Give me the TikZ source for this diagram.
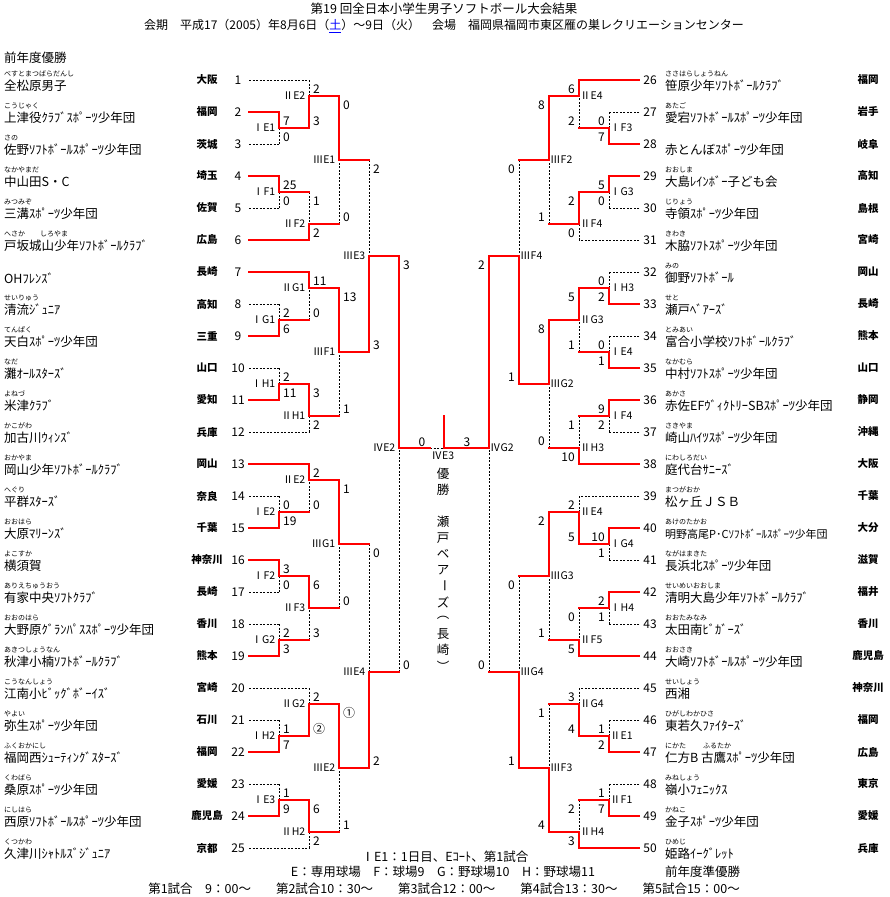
\documentclass[tikz,border=0pt]{standalone}
\usepackage{fontspec}
\usepackage{graphicx}
\usepackage{tikz}
\setmainfont{Noto Sans CJK JP}
\definecolor{linkblue}{RGB}{0,0,255}

\begin{document}
\begin{tikzpicture}[x=1pt,y=-1pt,
	won/.style={red,line width=2.5pt,line cap=rect},
	lost/.style={black,line width=0.8pt,dash pattern=on 2pt off 1.5pt},
	txt/.style={inner sep=0pt,font=\fontsize{12.5}{15}\selectfont},
	kana/.style={inner sep=0pt,anchor=west,font=\fontsize{7}{8}\selectfont},
	tname/.style={inner sep=0pt,anchor=west,font=\fontsize{12.5}{15}\selectfont},
	teamno/.style={inner sep=0pt,font=\fontsize{12}{14}\selectfont},
	pref/.style={inner sep=0pt,font=\fontsize{10.5}{12}\selectfont\bfseries},
	mlabel/.style={inner sep=0pt,font=\fontsize{10.5}{12}\selectfont},
	pts/.style={inner sep=0pt,font=\fontsize{12}{14}\selectfont}]
	\useasboundingbox (0,0) rectangle (889,897);
	\node[txt] (title) at (444,9) {第19 回全日本小学生男子ソフトボール大会結果};
	\node[txt,font=\fontsize{12}{14}\selectfont] (period) at (444,26) {会期　平成17（2005）年8月6日（\textcolor{linkblue}{\underline{土}}）～9日（火）　会場　福岡県福岡市東区雁の巣レクリエーションセンター};
	\node[txt,anchor=west] (prevwin) at (4,58) {前年度優勝};
	\node[txt,anchor=west] (prevrun) at (665,872) {前年度準優勝};
	\node[txt] (note1) at (445,857) {ⅠE1：1日目、Eｺｰﾄ、第1試合};
	\node[txt] (note2) at (443,872) {E：専用球場　F：球場9　G：野球場10　H：野球場11};
	\node[txt] (note3) at (444,889) {第1試合　9：00～　　第2試合10：30～　　第3試合12：00～　　第4試合13：30～　　第5試合15：00～};
	\foreach \n/\f/\t/\p [evaluate=\n as \y using 48+32*\n] in {1/べすとまつばらだんし/全松原男子/大阪, 2/こうじゃく/上津役ｸﾗﾌﾞｽﾎﾟｰﾂ少年団/福岡, 3/さの/佐野ｿﾌﾄﾎﾞｰﾙｽﾎﾟｰﾂ少年団/茨城, 4/なかやまだ/中山田S・C/埼玉, 5/みつみぞ/三溝ｽﾎﾟｰﾂ少年団/佐賀, 6/{へさか\hspace{15pt}しろやま}/戸坂城山少年ｿﾌﾄﾎﾞｰﾙｸﾗﾌﾞ/広島, 7//OHﾌﾚﾝｽﾞ/長崎, 8/せいりゅう/清流ｼﾞｭﾆｱ/高知, 9/てんぱく/天白ｽﾎﾟｰﾂ少年団/三重, 10/なだ/灘ｵｰﾙｽﾀｰｽﾞ/山口, 11/よねづ/米津ｸﾗﾌﾞ/愛知, 12/かこがわ/加古川ｳｨﾝｽﾞ/兵庫, 13/おかやま/岡山少年ｿﾌﾄﾎﾞｰﾙｸﾗﾌﾞ/岡山, 14/へぐり/平群ｽﾀｰｽﾞ/奈良, 15/おおはら/大原ﾏﾘｰﾝｽﾞ/千葉, 16/よこすか/横須賀/神奈川, 17/ありえちゅうおう/有家中央ｿﾌﾄｸﾗﾌﾞ/長崎, 18/おおのはら/大野原ｸﾞﾗﾝﾊﾟｽｽﾎﾟｰﾂ少年団/香川, 19/あきつしょうなん/秋津小楠ｿﾌﾄﾎﾞｰﾙｸﾗﾌﾞ/熊本, 20/こうなんしょう/江南小ﾋﾞｯｸﾞﾎﾞｰｲｽﾞ/宮崎, 21/やよい/弥生ｽﾎﾟｰﾂ少年団/石川, 22/ふくおかにし/福岡西ｼｭｰﾃｨﾝｸﾞｽﾀｰｽﾞ/福岡, 23/くわばら/桑原ｽﾎﾟｰﾂ少年団/愛媛, 24/にしはら/西原ｿﾌﾄﾎﾞｰﾙｽﾎﾟｰﾂ少年団/鹿児島, 25/くつかわ/久津川ｼｬﾄﾙｽﾞｼﾞｭﾆｱ/京都}{
		\coordinate (t\n) at (249,\y);
		\node[teamno] (n\n) at (238,\y) {\n};
		\node[pref] (p\n) at (207,\y) {\p};
		\node[tname] (tn\n) at (4,\y+6) {\t};
		\node[kana] (k\n) at (4,\y-6) {\f};
	}
	\foreach \n/\f/\t/\p [evaluate=\n as \y using 32*\n-752] in {26/ささはらしょうねん/笹原少年ｿﾌﾄﾎﾞｰﾙｸﾗﾌﾞ/福岡, 27/あたご/愛宕ｿﾌﾄﾎﾞｰﾙｽﾎﾟｰﾂ少年団/岩手, 28//赤とんぼｽﾎﾟｰﾂ少年団/岐阜, 29/おおしま/大島ﾚｲﾝﾎﾞｰ子ども会/高知, 30/じりょう/寺領ｽﾎﾟｰﾂ少年団/島根, 31/きわき/木脇ｿﾌﾄｽﾎﾟｰﾂ少年団/宮崎, 32/みの/御野ｿﾌﾄﾎﾞｰﾙ/岡山, 33/せと/瀬戸ﾍﾞｱｰｽﾞ/長崎, 34/とみあい/富合小学校ｿﾌﾄﾎﾞｰﾙｸﾗﾌﾞ/熊本, 35/なかむら/中村ｿﾌﾄｽﾎﾟｰﾂ少年団/山口, 36/あかさ/赤佐EFｳﾞｨｸﾄﾘｰSBｽﾎﾟｰﾂ少年団/静岡, 37/さきやま/崎山ﾊｲﾂｽﾎﾟｰﾂ少年団/沖縄, 38/にわしろだい/庭代台ｻﾆｰｽﾞ/大阪, 39/まつがおか/松ヶ丘ＪＳＢ/千葉, 40/あけのたかお/{\fontsize{11}{13}\selectfont 明野高尾P･Cｿﾌﾄﾎﾞｰﾙｽﾎﾟｰﾂ少年団}/大分, 41/ながはまきた/長浜北ｽﾎﾟｰﾂ少年団/滋賀, 42/せいめいおおしま/清明大島少年ｿﾌﾄﾎﾞｰﾙｸﾗﾌﾞ/福井, 43/おおたみなみ/太田南ﾋﾞｶﾞｰｽﾞ/香川, 44/おおさき/大崎ｿﾌﾄﾎﾞｰﾙｽﾎﾟｰﾂ少年団/鹿児島, 45/せいしょう/西湘/神奈川, 46/ひがしわかひさ/東若久ﾌｧｲﾀｰｽﾞ/福岡, 47/{にかた\hspace{17pt}ふるたか}/仁方B 古鷹ｽﾎﾟｰﾂ少年団/広島, 48/みねしょう/嶺小ﾌｪﾆｯｸｽ/東京, 49/かねこ/金子ｽﾎﾟｰﾂ少年団/愛媛, 50/ひめじ/姫路ｲｰｸﾞﾚｯﾄ/兵庫}{
		\coordinate (t\n) at (639,\y);
		\node[teamno] (n\n) at (650,\y) {\n};
		\node[pref] (p\n) at (868,\y) {\p};
		\node[tname] (tn\n) at (665,\y+6) {\t};
		\node[kana] (k\n) at (665,\y-6) {\f};
	}
	\foreach \m/\x/\y/\l in {IE1/279/128/ⅠE1, IF1/279/192/ⅠF1, IG1/279/320/ⅠG1, IH1/279/384/ⅠH1, IE2/279/512/ⅠE2, IF2/279/576/ⅠF2, IG2/279/640/ⅠG2, IH2/279/736/ⅠH2, IE3/279/800/ⅠE3, IIEa/309/96/ⅡE2, IIF2/309/224/ⅡF2, IIG1/309/288/ⅡG1, IIH1/309/416/ⅡH1, IIEb/309/480/ⅡE2, IIF3/309/608/ⅡF3, IIG2/309/704/ⅡG2, IIH2/309/832/ⅡH2, IIIE1/339/160/ⅢE1, IIIF1/339/352/ⅢF1, IIIG1/339/544/ⅢG1, IIIE2/339/768/ⅢE2, IIIE3/369/256/ⅢE3, IIIE4/369/672/ⅢE4, IVE2/399/448/ⅣE2}{
		\coordinate (\m) at (\x,\y);
		\node[mlabel,anchor=east,shift={(-3.5,0)}] (\m-l) at (\m) {\l};
	}
	\foreach \m/\x/\y/\l in {IF3/609/128/ⅠF3, IG3/609/192/ⅠG3, IH3/609/288/ⅠH3, IE4/609/352/ⅠE4, IF4/609/416/ⅠF4, IG4/609/544/ⅠG4, IH4/609/608/ⅠH4, IIE1/609/736/ⅡE1, IIF1/609/800/ⅡF1, IIEc/579/96/ⅡE4, IIF4/579/224/ⅡF4, IIG3/579/320/ⅡG3, IIH3/579/448/ⅡH3, IIEd/579/512/ⅡE4, IIF5/579/640/ⅡF5, IIG4/579/704/ⅡG4, IIH4/579/832/ⅡH4, IIIF2/549/160/ⅢF2, IIIG2/549/384/ⅢG2, IIIG3/549/576/ⅢG3, IIIF3/549/768/ⅢF3, IIIF4/519/256/ⅢF4, IIIG4/519/672/ⅢG4, IVG2/489/448/ⅣG2}{
		\coordinate (\m) at (\x,\y);
		\node[mlabel,anchor=west,shift={(1,0)}] (\m-l) at (\m) {\l};
	}
	\foreach \a/\m/\h/\v/\s/\d in {t3/IE1/lost/lost/0/-7, t2/IE1/won/won/7/9, t5/IF1/lost/lost/0/-7, t4/IF1/won/won/25/9, t8/IG1/lost/lost/2/9, t9/IG1/won/won/6/-7, t10/IH1/lost/lost/2/9, t11/IH1/won/won/11/-7, t14/IE2/lost/lost/0/9, t15/IE2/won/won/19/-7, t17/IF2/lost/lost/0/-7, t16/IF2/won/won/3/9, t18/IG2/lost/lost/2/9, t19/IG2/won/won/3/-7, t21/IH2/lost/lost/1/9, t22/IH2/won/won/7/-7, t23/IE3/lost/lost/1/9, t24/IE3/won/won/9/-7,
		t1/IIEa/lost/lost/2/9, IE1/IIEa/won/won/3/-7, IF1/IIF2/won/lost/1/9, t6/IIF2/won/won/2/-7, IG1/IIG1/won/lost/0/-7, t7/IIG1/won/won/11/9, t12/IIH1/lost/lost/2/-7, IH1/IIH1/won/won/3/9, IE2/IIEb/won/lost/0/-7, t13/IIEb/won/won/2/9, IG2/IIF3/won/lost/3/-7, IF2/IIF3/won/won/6/9, t20/IIG2/lost/lost/2/9, IH2/IIG2/won/won/②/-7, t25/IIH2/lost/lost/2/-7, IE3/IIH2/won/won/6/9,
		IIF2/IIIE1/won/lost/0/-7, IIEa/IIIE1/won/won/0/9, IIH1/IIIF1/won/lost/1/-7, IIG1/IIIF1/won/won/13/9, IIF3/IIIG1/won/lost/0/-7, IIEb/IIIG1/won/won/1/9, IIH2/IIIE2/won/lost/1/-7, IIG2/IIIE2/won/won/①/9,
		IIIE1/IIIE3/won/lost/2/9, IIIF1/IIIE3/won/won/3/-7, IIIG1/IIIE4/won/lost/0/9, IIIE2/IIIE4/won/won/2/-7, IIIE4/IVE2/won/lost/0/-7, IIIE3/IVE2/won/won/3/9}{
		\draw[\v] (\a -| \m) -- (\m);
		\draw[\h] (\a) -- (\a -| \m);
		\node[pts,anchor=west,shift={(4,\d)}] (\m-\a) at (\a -| \m) {\s};
	}
	\foreach \a/\m/\h/\v/\s/\d in {t27/IF3/lost/lost/0/9, t28/IF3/won/won/7/-7, t30/IG3/lost/lost/0/-7, t29/IG3/won/won/5/9, t32/IH3/lost/lost/0/9, t33/IH3/won/won/2/-7, t34/IE4/lost/lost/0/9, t35/IE4/won/won/1/-7, t37/IF4/lost/lost/2/-7, t36/IF4/won/won/9/9, t41/IG4/lost/lost/1/-7, t40/IG4/won/won/10/9, t43/IH4/lost/lost/1/-7, t42/IH4/won/won/2/9, t46/IIE1/lost/lost/1/9, t47/IIE1/won/won/2/-7, t48/IIF1/lost/lost/1/9, t49/IIF1/won/won/7/-7,
		IF3/IIEc/won/lost/2/-7, t26/IIEc/won/won/6/9, t31/IIF4/lost/lost/0/-7, IG3/IIF4/won/won/2/9, IE4/IIG3/won/lost/1/-7, IH3/IIG3/won/won/5/9, IF4/IIH3/won/lost/1/9, t38/IIH3/won/won/10/-7, t39/IIEd/lost/lost/2/9, IG4/IIEd/won/won/5/-7, IH4/IIF5/won/lost/0/9, t44/IIF5/won/won/5/-7, t45/IIG4/lost/lost/3/9, IIE1/IIG4/won/won/4/-7, IIF1/IIH4/won/lost/2/9, t50/IIH4/won/won/3/-7,
		IIF4/IIIF2/won/lost/1/-7, IIEc/IIIF2/won/won/8/9, IIH3/IIIG2/won/lost/0/-7, IIG3/IIIG2/won/won/8/9, IIF5/IIIG3/won/lost/1/-7, IIEd/IIIG3/won/won/2/9, IIG4/IIIF3/won/lost/1/9, IIH4/IIIF3/won/won/4/-7,
		IIIF2/IIIF4/won/lost/0/9, IIIG2/IIIF4/won/won/1/-7, IIIG3/IIIG4/won/lost/0/9, IIIF3/IIIG4/won/won/1/-7, IIIG4/IVG2/won/lost/0/-7, IIIF4/IVG2/won/won/2/9}{
		\draw[\v] (\a -| \m) -- (\m);
		\draw[\h] (\a) -- (\a -| \m);
		\node[pts,anchor=east,shift={(-4,\d)}] (\m-\a) at (\a -| \m) {\s};
	}
	\coordinate (IVE3) at (444,448);
	\coordinate (fl) at (430,448);
	\coordinate (champ) at (444,416);
	\draw[lost] (fl) -- (IVE3);
	\draw[won] (IVE2) -- (fl);
	\draw[won] (IVG2) -- (IVE3) -- (champ);
	\node[mlabel] (IVE3-l) at (443,456) {ⅣE3};
	\node[pts] (IVE3-a) at (422,442) {0};
	\node[pts] (IVE3-b) at (467,442) {3};
	\foreach \c [count=\i] in {優,勝,,瀬,戸,ベ,ア,{\rotatebox{-90}{ー}},ズ,︵,長,崎,︶}
		\node[txt] (v\i) at (443,458+16*\i) {\c};
\end{tikzpicture}
\end{document}
